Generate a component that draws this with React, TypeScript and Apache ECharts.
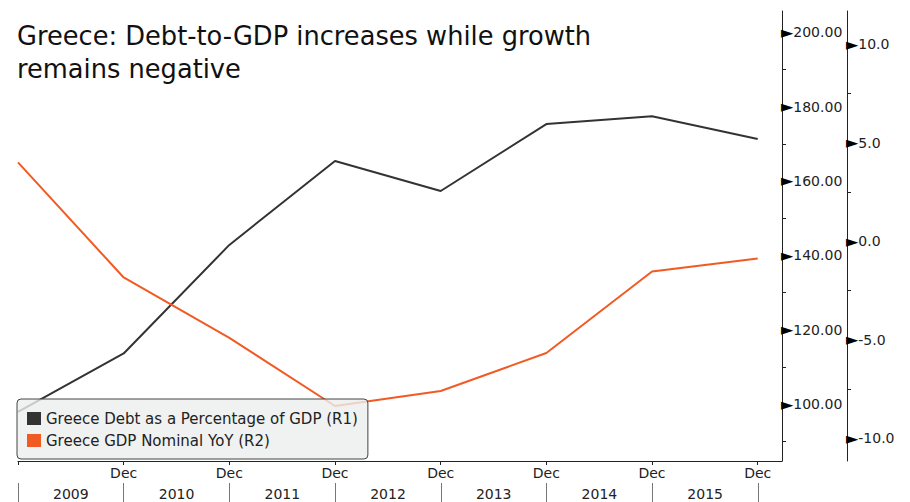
import React, { useEffect, useRef } from "react";
import * as echarts from "echarts";

const FONT = "'DejaVu Sans', sans-serif";

const periods = ["Dec 2008", "Dec 2009", "Dec 2010", "Dec 2011", "Dec 2012", "Dec 2013", "Dec 2014", "Dec 2015"];
const years = ["2009", "2010", "2011", "2012", "2013", "2014", "2015"];
const debtPctGdp = [97.9, 113.6, 142.8, 165.4, 157.3, 175.3, 177.4, 171.3];
const gdpNominalYoY = [4.0, -1.84, -4.9, -8.36, -7.6, -5.67, -1.54, -0.88];

const seriesNames = ["Greece Debt as a Percentage of GDP (R1)", "Greece GDP Nominal YoY (R2)"];
const titleText = "Greece: Debt-to-GDP increases while growth\nremains negative";

export default function App() {
  const ref = useRef<HTMLDivElement>(null);
  useEffect(() => {
    document.body.style.margin = "0";
    const chart = echarts.init(ref.current!, null, { renderer: "svg" });
    const isMult = (v: number, m: number) => Math.abs(v / m - Math.round(v / m)) < 1e-6;
    const richTri = {
      t: { fontSize: 16, color: "#000", fontFamily: FONT, verticalAlign: "middle", lineHeight: 18 },
      v: { fontSize: 14, color: "#222", fontFamily: FONT, lineHeight: 18 },
    };
    chart.setOption({
      animation: false,
      backgroundColor: "#ffffff",
      textStyle: { fontFamily: FONT },
      title: {
        text: titleText,
        left: 17,
        top: 19,
        padding: 0,
        textStyle: { fontSize: 25.7, fontWeight: "normal", color: "#111", lineHeight: 33, fontFamily: FONT },
      },
      legend: {
        left: 17,
        top: 399,
        orient: "vertical",
        icon: "rect",
        itemWidth: 14,
        itemHeight: 13,
        itemGap: 7,
        padding: [12, 10, 11, 10],
        backgroundColor: "rgba(236,238,238,0.8)",
        borderColor: "#444",
        borderWidth: 1,
        borderRadius: 4,
        textStyle: { fontSize: 15, color: "#222", fontFamily: FONT },
        data: seriesNames,
      },
      grid: [
        { left: 18, right: 128, top: 11, bottom: 41, containLabel: false },
        { left: 18, right: 152, top: 483, height: 19, containLabel: false },
      ],
      xAxis: [
        {
          type: "value",
          gridIndex: 0,
          min: 0,
          max: 7.23,
          splitNumber: 7,
          axisLine: { show: true, onZero: false, lineStyle: { color: "#222", width: 1 } },
          axisTick: { show: true, length: 4, lineStyle: { color: "#222" } },
          splitLine: { show: false },
          axisLabel: {
            margin: 5,
            fontSize: 14,
            color: "#222",
            fontFamily: FONT,
            showMaxLabel: false,
            formatter: (v: number) => (v >= 1 && isMult(v, 1) ? "Dec" : ""),
          },
        },
        {
          type: "category",
          gridIndex: 1,
          position: "top",
          data: years,
          boundaryGap: true,
          axisLine: { show: false, onZero: false },
          axisTick: { show: true, inside: true, length: 19, interval: 0, alignWithLabel: false, lineStyle: { color: "#777" } },
          splitLine: { show: false },
          axisLabel: { inside: true, margin: 4, fontSize: 14, color: "#222", fontFamily: FONT, interval: 0 },
        },
      ],
      yAxis: [
        {
          type: "value",
          gridIndex: 0,
          position: "right",
          min: 84.67,
          max: 205.73,
          splitNumber: 6,
          axisLine: { show: true, onZero: false, lineStyle: { color: "#222", width: 1 } },
          axisTick: { show: true, length: 0.01, lineStyle: { color: "transparent" } },
          minorTick: { show: true, splitNumber: 2, length: 4, lineStyle: { color: "#222" } },
          splitLine: { show: false },
          minorSplitLine: { show: false },
          axisLabel: {
            margin: -1,
            showMinLabel: false,
            showMaxLabel: false,
            formatter: (v: number) => (isMult(v, 20) ? `{t|►}{v|${v.toFixed(2)}}` : ""),
            rich: richTri,
          },
        },
        {
          type: "value",
          gridIndex: 0,
          position: "right",
          offset: 65,
          min: -11.15,
          max: 11.68,
          splitNumber: 5,
          axisLine: { show: true, onZero: false, lineStyle: { color: "#222", width: 1 } },
          axisTick: { show: true, length: 0.01, lineStyle: { color: "transparent" } },
          minorTick: { show: true, splitNumber: 2, length: 4, lineStyle: { color: "#222" } },
          splitLine: { show: false },
          minorSplitLine: { show: false },
          axisLabel: {
            margin: -1,
            showMinLabel: false,
            showMaxLabel: false,
            formatter: (v: number) => (isMult(v, 5) ? `{t|►}{v|${v.toFixed(1)}}` : ""),
            rich: richTri,
          },
        },
        { type: "value", gridIndex: 1, show: false, axisLine: { onZero: false } },
      ],
      series: [
        {
          name: seriesNames[0],
          type: "line",
          xAxisIndex: 0,
          yAxisIndex: 0,
          showSymbol: false,
          color: "#333333",
          lineStyle: { width: 2, color: "#333333" },
          data: debtPctGdp.map((v, i) => [i, v]),
        },
        {
          name: seriesNames[1],
          type: "line",
          xAxisIndex: 0,
          yAxisIndex: 1,
          showSymbol: false,
          color: "#f25a24",
          lineStyle: { width: 2, color: "#f25a24" },
          data: gdpNominalYoY.map((v, i) => [i, v]),
        },
      ],
    });
    return () => chart.dispose();
  }, []);
  return <div ref={ref} style={{ width: 910, height: 502 }} />;
}
